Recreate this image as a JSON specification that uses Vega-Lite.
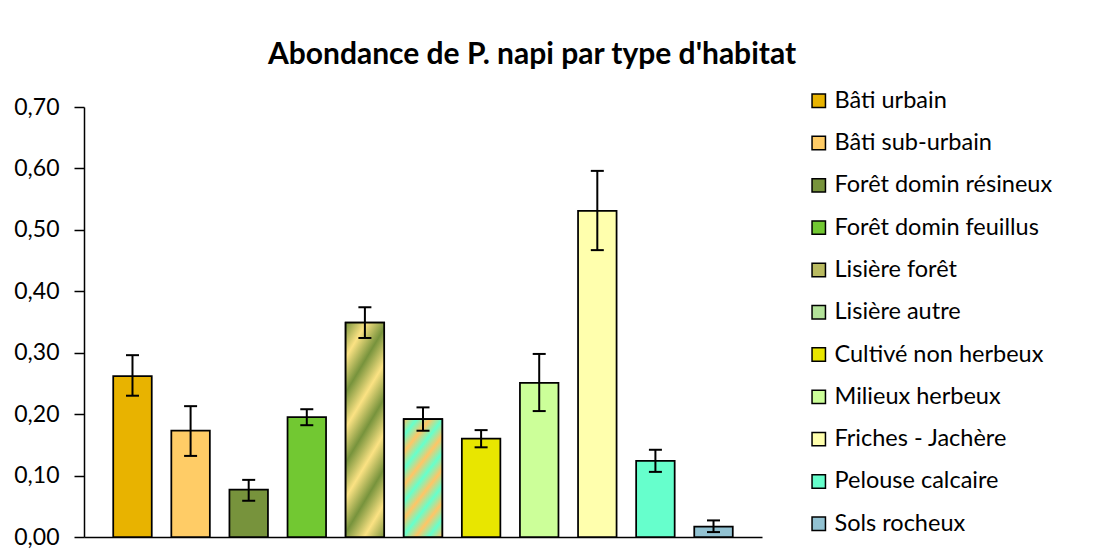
{
  "$schema": "https://vega.github.io/schema/vega-lite/v6.json",
  "autosize": "none",
  "width": 678,
  "height": 430,
  "padding": {"left": 84, "top": 107, "right": 334, "bottom": 22},
  "background": "white",
  "config": {"font": "Lato", "view": {"stroke": null}},
  "title": {"text": "Abondance de P. napi par type d'habitat", "font": "Lato", "fontSize": 30, "fontWeight": "bold", "color": "black", "anchor": "middle", "frame": "group", "dx": 109, "offset": 19},
  "data": {"values": [
    {"habitat": "Bâti urbain", "abondance": 0.262, "lo": 0.230, "hi": 0.296},
    {"habitat": "Bâti sub-urbain", "abondance": 0.173, "lo": 0.132, "hi": 0.213},
    {"habitat": "Forêt domin résineux", "abondance": 0.077, "lo": 0.059, "hi": 0.093},
    {"habitat": "Forêt domin feuillus", "abondance": 0.195, "lo": 0.182, "hi": 0.208},
    {"habitat": "Lisière forêt", "abondance": 0.349, "lo": 0.324, "hi": 0.374},
    {"habitat": "Lisière autre", "abondance": 0.192, "lo": 0.173, "hi": 0.211},
    {"habitat": "Cultivé non herbeux", "abondance": 0.160, "lo": 0.146, "hi": 0.174},
    {"habitat": "Milieux herbeux", "abondance": 0.251, "lo": 0.205, "hi": 0.298},
    {"habitat": "Friches - Jachère", "abondance": 0.531, "lo": 0.467, "hi": 0.596},
    {"habitat": "Pelouse calcaire", "abondance": 0.124, "lo": 0.106, "hi": 0.142},
    {"habitat": "Sols rocheux", "abondance": 0.017, "lo": 0.008, "hi": 0.027}
  ]},
  "encoding": {
    "x": {"field": "habitat", "type": "nominal", "sort": null,
      "scale": {"paddingInner": 0.337, "paddingOuter": 0.503},
      "axis": {"title": null, "labels": false, "ticks": false, "domainColor": "black", "domainWidth": 1.5}},
    "y": {"field": "abondance", "type": "quantitative",
      "scale": {"domain": [0, 0.7]},
      "axis": {"title": null, "values": [0, 0.1, 0.2, 0.3, 0.4, 0.5, 0.6, 0.7], "grid": false,
        "labelExpr": "replace(format(datum.value, '.2f'), '.', ',')",
        "labelFont": "Lato", "labelFontSize": 23, "labelColor": "black", "labelPadding": 15,
        "tickSize": 10, "tickColor": "black", "tickWidth": 1.5,
        "domainColor": "black", "domainWidth": 1.5}}
  },
  "layer": [
    {
      "mark": {"type": "bar", "stroke": "black", "strokeWidth": 1.75, "opacity": 1},
      "encoding": {
        "fill": {"field": "habitat", "type": "nominal", "sort": null,
          "scale": {
            "domain": ["Bâti urbain", "Bâti sub-urbain", "Forêt domin résineux", "Forêt domin feuillus", "Lisière forêt", "Lisière autre", "Cultivé non herbeux", "Milieux herbeux", "Friches - Jachère", "Pelouse calcaire", "Sols rocheux"],
            "range": ["#E8B300", "#FFCC66", "#77933C", "#72C832", "#B9BA60", "#B3E299", "#E8E600", "#CCFF99", "#FFFFAD", "#66FFCC", "#92C2D2"]},
          "legend": {"title": null, "orient": "none", "legendX": 723, "legendY": -18,
            "symbolType": "square", "symbolSize": 180, "symbolStrokeColor": "black", "symbolStrokeWidth": 1.5, "symbolOpacity": 1,
            "labelFont": "Lato", "labelFontSize": 23.5, "labelColor": "black", "labelOffset": 4, "labelLimit": 300,
            "rowPadding": 17.3,
            "encode": {"symbols": {"update": {
              "stroke": {"value": "black"},
              "strokeWidth": {"value": 1.5}
            }}}}}
      }
    },
    {
      "transform": [{"filter": "datum.habitat === 'Lisière forêt'"}],
      "mark": {"type": "bar", "stroke": "black", "strokeWidth": 1.75, "opacity": 1,
        "fill": {"gradient": "linear", "x1": 0, "y1": 0, "x2": 0.36, "y2": 1.2, "stops": [
          {"offset": 0, "color": "#77933C"}, {"offset": 0.125, "color": "#FBE283"},
          {"offset": 0.25, "color": "#77933C"}, {"offset": 0.375, "color": "#FBE283"},
          {"offset": 0.5, "color": "#77933C"}, {"offset": 0.625, "color": "#FBE283"},
          {"offset": 0.75, "color": "#77933C"}, {"offset": 0.875, "color": "#FBE283"},
          {"offset": 1, "color": "#77933C"}]}},
      "encoding": {}
    },
    {
      "transform": [{"filter": "datum.habitat === 'Lisière autre'"}],
      "mark": {"type": "bar", "stroke": "black", "strokeWidth": 1.75, "opacity": 1,
        "fill": {"gradient": "linear", "x1": 0, "y1": 0, "x2": 0.5, "y2": 1.2, "stops": [
          {"offset": 0, "color": "#FFC566"}, {"offset": 0.1, "color": "#66FFCC"},
          {"offset": 0.2, "color": "#FFC566"}, {"offset": 0.3, "color": "#66FFCC"},
          {"offset": 0.4, "color": "#FFC566"}, {"offset": 0.5, "color": "#66FFCC"},
          {"offset": 0.6, "color": "#FFC566"}, {"offset": 0.7, "color": "#66FFCC"},
          {"offset": 0.8, "color": "#FFC566"}, {"offset": 0.9, "color": "#66FFCC"},
          {"offset": 1, "color": "#FFC566"}]}},
      "encoding": {}
    },
    {
      "mark": {"type": "rule", "color": "black", "strokeWidth": 2},
      "encoding": {"y": {"field": "lo", "type": "quantitative"}, "y2": {"field": "hi"}}
    },
    {
      "mark": {"type": "tick", "color": "black", "thickness": 2, "size": 13, "opacity": 1},
      "encoding": {"y": {"field": "lo", "type": "quantitative"}}
    },
    {
      "mark": {"type": "tick", "color": "black", "thickness": 2, "size": 13, "opacity": 1},
      "encoding": {"y": {"field": "hi", "type": "quantitative"}}
    }
  ]
}
